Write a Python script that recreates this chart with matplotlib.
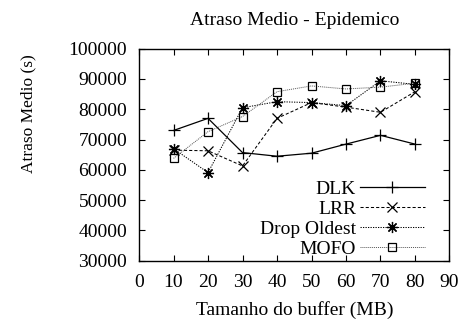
#!/usr/bin/env python3
"""Atraso medio vs tamanho do buffer, protocolo Epidemico."""

import matplotlib
matplotlib.use("Agg")
import matplotlib.pyplot as plt

buffer_mb = [10, 20, 30, 40, 50, 60, 70, 80]

dlk = [73000, 77000, 65700, 64500, 65500, 68500, 71400, 68500]
lrr = [66500, 66300, 61300, 77000, 82200, 80700, 79000, 85800]
drop_oldest = [67000, 59100, 80500, 82500, 82200, 81200, 89400, 88200]
mofo = [63800, 72600, 77600, 85800, 87700, 86700, 87300, 88600]

plt.rcParams["font.family"] = ["Liberation Serif", "DejaVu Serif"]
plt.rcParams["font.size"] = 14

fig = plt.figure(figsize=(4.67, 3.2), dpi=100)
ax = fig.add_axes([0.2977, 0.185, 0.6648, 0.663])

ax.plot(buffer_mb, dlk, color="black", linestyle="-", linewidth=0.9,
        marker="+", markersize=8, markeredgewidth=0.9, label="DLK")
ax.plot(buffer_mb, lrr, color="black", linestyle=(0, (3, 2)), linewidth=0.75,
        marker="x", markersize=6.5, markeredgewidth=0.9, label="LRR")
ax.plot(buffer_mb, drop_oldest, color="black", linestyle=(0, (1.2, 1.2)), linewidth=0.75,
        marker=(8, 2, 0), markersize=8, markeredgewidth=0.9, label="Drop Oldest")
ax.plot(buffer_mb, mofo, color="#555555", linestyle=(0, (1, 1)), linewidth=0.7,
        marker="s", markersize=6, markerfacecolor="none", markeredgecolor="black",
        markeredgewidth=0.9, label="MOFO")

ax.set_xlim(0, 90)
ax.set_ylim(30000, 100000)
ax.set_xticks(range(0, 91, 10))
ax.set_yticks(range(30000, 100001, 10000))
ax.tick_params(direction="in", top=True, right=True, length=4, width=0.8)
ax.tick_params(axis="x", pad=9.5)
ax.tick_params(axis="y", pad=8.5)
for s in ax.spines.values():
    s.set_linewidth(1.0)

ax.set_title("Atraso Medio - Epidemico", fontsize=14, y=1.112, pad=0)
ax.set_xlabel("Tamanho do buffer (MB)", fontsize=14)
ax.xaxis.set_label_coords(0.502, -0.19)
ax.set_ylabel("Atraso Medio (s)", fontsize=12.5)
ax.yaxis.set_label_coords(-0.332, 0.692)

ax.legend(loc="lower right", bbox_to_anchor=(0.921, 0.015), frameon=False,
          markerfirst=False, handlelength=3.35, handletextpad=0.2,
          labelspacing=0.12, borderaxespad=0, borderpad=0, fontsize=14)

fig.savefig("out.png", dpi=100)
